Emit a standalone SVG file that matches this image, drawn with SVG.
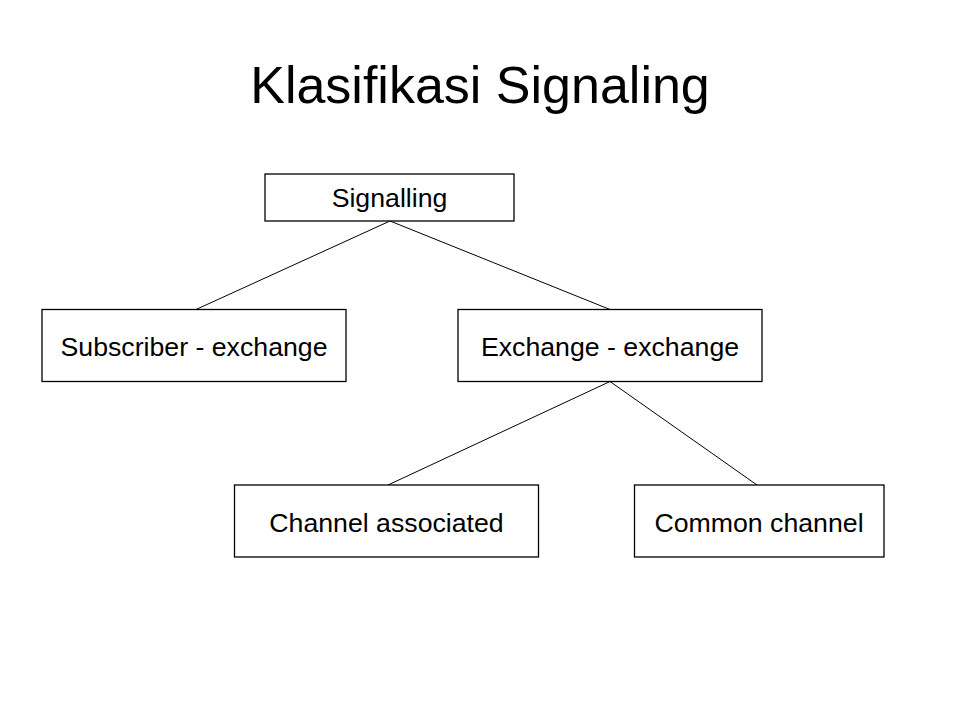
<svg xmlns="http://www.w3.org/2000/svg" width="960" height="720" viewBox="0 0 960 720">
<style>
.box{fill:#fff;stroke:#000;stroke-width:1.3}
.lbl{font-family:"Liberation Sans",Arial,sans-serif;font-size:26.7px;fill:#000;text-anchor:middle}
.title{font-family:"Liberation Sans",Arial,sans-serif;font-size:52px;fill:#000;text-anchor:middle}
.conn line{stroke:#000;stroke-width:1}
</style>
<rect width="960" height="720" fill="#fff"/>
<text class="title" x="480" y="103">Klasifikasi Signaling</text>
<g id="connectors" class="conn">
<line x1="390" y1="221" x2="196" y2="309.5"/>
<line x1="390" y1="221" x2="610" y2="309.5"/>
<line x1="610" y1="381.5" x2="388" y2="485"/>
<line x1="610" y1="381.5" x2="757" y2="485"/>
</g>
<g id="signalling">
<rect class="box" x="265" y="174" width="249" height="47"/>
<text class="lbl" x="389.5" y="207">Signalling</text>
</g>
<g id="subscriber-exchange">
<rect class="box" x="42" y="309.5" width="304" height="72"/>
<text class="lbl" x="194" y="355.5">Subscriber - exchange</text>
</g>
<g id="exchange-exchange">
<rect class="box" x="458" y="309.5" width="304" height="72"/>
<text class="lbl" x="610" y="355.5">Exchange - exchange</text>
</g>
<g id="channel-associated">
<rect class="box" x="234.5" y="485" width="304" height="72"/>
<text class="lbl" x="386.5" y="531.5">Channel associated</text>
</g>
<g id="common-channel">
<rect class="box" x="634.5" y="485" width="249.5" height="72"/>
<text class="lbl" x="759" y="531.5">Common channel</text>
</g>
</svg>
